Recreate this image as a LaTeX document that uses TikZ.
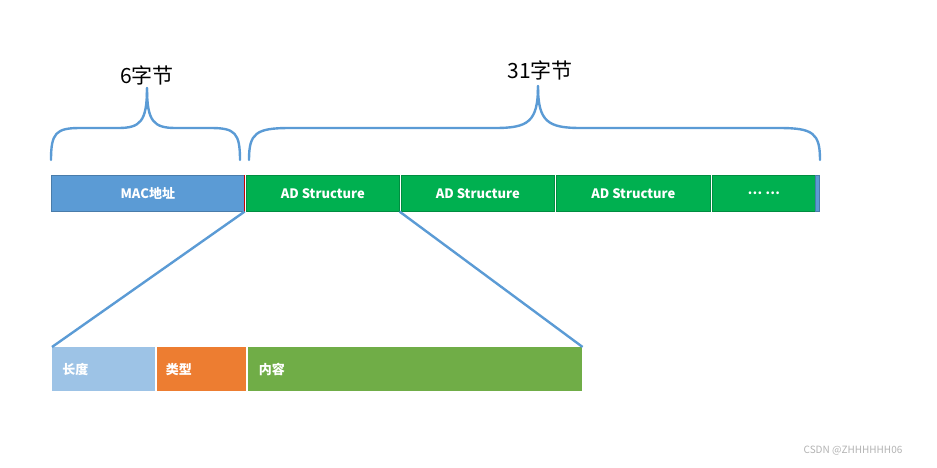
\documentclass[tikz,border=0pt]{standalone}
\usepackage{fontspec}
\setmainfont{Noto Sans CJK SC}
\begin{document}
\begin{tikzpicture}[x=1pt,y=-1pt,
  cell/.style={draw=#1!80!black,line width=0.6pt,inner sep=0pt,anchor=north west,font=\bfseries\fontsize{13}{14}\selectfont,text=white},
  brace/.style={draw=blue!40!cyan!60!gray,line width=2.4pt,line cap=round},
  link/.style={draw=blue!40!cyan!60!gray,line width=2.4pt}]
\useasboundingbox (0,0) rectangle (937,467);
\definecolor{mac}{HTML}{5B9BD5}
\definecolor{adg}{HTML}{00B050}
\definecolor{lb}{HTML}{9DC3E6}
\definecolor{og}{HTML}{ED7D31}
\definecolor{lg}{HTML}{70AD47}
\definecolor{br}{HTML}{5B9BD5}
\tikzset{brace/.append style={draw=br},link/.append style={draw=br}}
\node[cell=mac,fill=mac,minimum width=193pt,minimum height=36pt] (mac) at (51,175) {MAC地址};
\node[cell=adg,fill=adg,minimum width=153pt,minimum height=36pt] (ad1) at (246,175) {AD Structure};
\node[cell=adg,fill=adg,minimum width=153pt,minimum height=36pt] (ad2) at (401,175) {AD Structure};
\node[cell=adg,fill=adg,minimum width=154pt,minimum height=36pt] (ad3) at (556,175) {AD Structure};
\node[cell=adg,fill=adg,minimum width=103pt,minimum height=36pt] (dots) at (712,175) {… …};
\node[cell=mac,fill=mac,minimum width=4pt,minimum height=36pt] (endc) at (815,175) {};
\draw[red!80!black,line width=1.5pt] (mac.north east) -- (mac.south east);
% braces
\draw[brace] (51,160) .. controls (51,133) and (56,128) .. (80,128) -- (118,128) .. controls (140,128) and (147,122) .. (147,88);
\draw[brace] (240,160) .. controls (240,133) and (235,128) .. (211,128) -- (176,128) .. controls (154,128) and (147,122) .. (147,88);
\draw[brace] (249,160) .. controls (249,133) and (256,128) .. (290,128) -- (495,128) .. controls (528,128) and (538,122) .. (538,86);
\draw[brace] (820,160) .. controls (820,133) and (813,128) .. (779,128) -- (581,128) .. controls (548,128) and (538,122) .. (538,86);
\node[font=\fontsize{21}{24}\selectfont] (t6) at (147,75) {6字节};
\node[font=\fontsize{21}{24}\selectfont] (t31) at (540,70) {31字节};
% bottom
\node[cell=lb,fill=lb,draw=none,minimum width=103pt,minimum height=44pt,align=left,text width=95pt] (len) at (52,347) {\hspace*{6pt}长度};
\node[cell=og,fill=og,draw=none,minimum width=89pt,minimum height=44pt,text width=80pt] (typ) at (157,347) {\hspace*{4pt}类型};
\node[cell=lg,fill=lg,draw=none,minimum width=334pt,minimum height=44pt,text width=325pt] (cnt) at (248,347) {\hspace*{6pt}内容};
\draw[link] (mac.south east) -- (len.north west);
\draw[link] (ad1.south east) -- (cnt.north east);
\node[text=gray!60,font=\fontsize{10}{12}\selectfont] (wm) at (853,451) {CSDN @ZHHHHHH06};
\end{tikzpicture}
\end{document}
